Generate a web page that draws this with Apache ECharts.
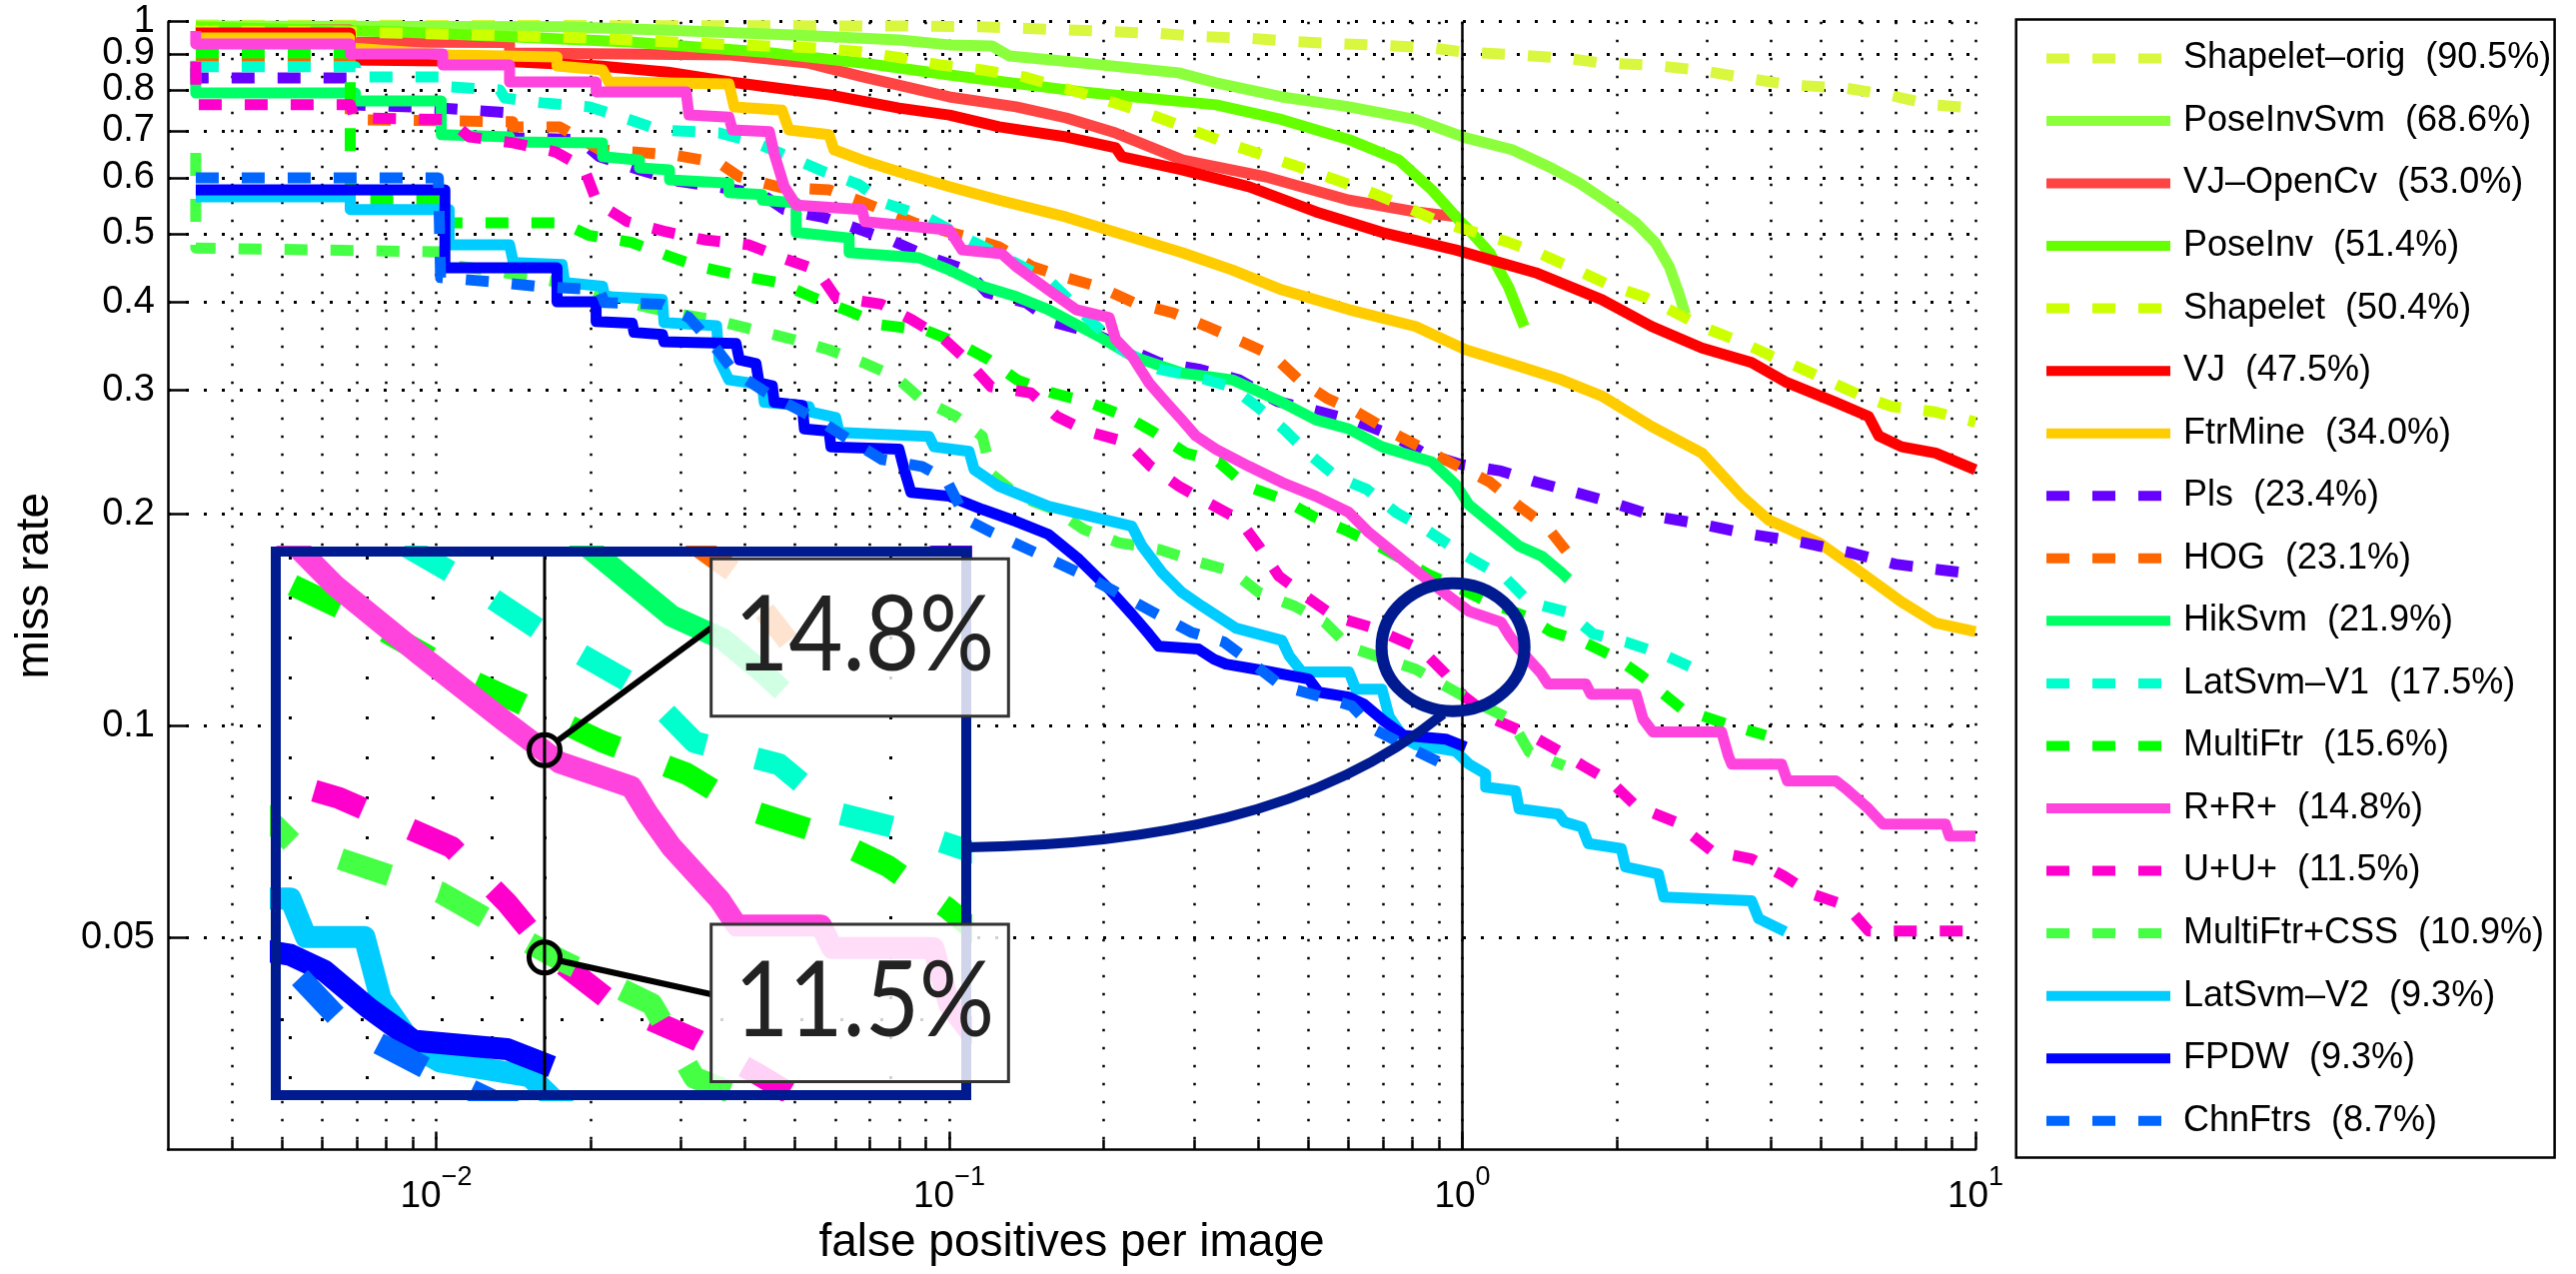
<!DOCTYPE html>
<html><head><meta charset="utf-8">
<script src="https://cdn.jsdelivr.net/npm/echarts@6.0.0/dist/echarts.min.js"></script>
<style>html,body{margin:0;padding:0;background:#fff}#c{width:2578px;height:1275px}</style>
</head><body><div id="c"></div>
<script>
// ---------- data (fppi, miss rate) ----------
const methodNames = ['Shapelet\u2013orig','PoseInvSvm','VJ\u2013OpenCv','PoseInv','Shapelet','VJ','FtrMine','Pls','HOG','HikSvm','LatSvm\u2013V1','MultiFtr','R+R+','U+U+','MultiFtr+CSS','LatSvm\u2013V2','FPDW','ChnFtrs'];
const methodScores = ['90.5%','68.6%','53.0%','51.4%','50.4%','47.5%','34.0%','23.4%','23.1%','21.9%','17.5%','15.6%','14.8%','11.5%','10.9%','9.3%','9.3%','8.7%'];

const shapeletOrig = [[0.0034,0.989],[0.08,0.986],[0.118,0.983],[0.143,0.978],[0.209,0.968],[0.258,0.962],[0.315,0.952],[0.387,0.947],[0.472,0.937],[0.58,0.930],[0.712,0.925],[0.868,0.918],[1.0,0.906],[1.28,0.897],[1.58,0.888],[1.86,0.874],[2.31,0.868],[2.89,0.854],[3.55,0.832],[4.38,0.813],[5.57,0.805],[6.77,0.787],[8.2,0.762],[10,0.754]];
const poseInvSvm = [[0.0034,0.986],[0.0176,0.984],[0.0276,0.973],[0.051,0.957],[0.08,0.942],[0.1,0.927],[0.121,0.924],[0.131,0.894],[0.182,0.874],[0.28,0.846],[0.331,0.819],[0.445,0.782],[0.601,0.757],[0.811,0.726],[1.015,0.684],[1.25,0.658],[1.49,0.620],[1.69,0.590],[1.93,0.553],[2.18,0.518],[2.38,0.485],[2.53,0.449],[2.64,0.412],[2.72,0.384]];
const vjOpenCv = [[0.0034,0.973],[0.0068,0.973],[0.0068,0.936],[0.0139,0.934],[0.0139,0.903],[0.0374,0.897],[0.0529,0.874],[0.0678,0.835],[0.1,0.782],[0.135,0.757],[0.169,0.730],[0.211,0.695],[0.285,0.636],[0.414,0.602],[0.601,0.558],[0.811,0.537],[0.984,0.528]];
const poseInv = [[0.0034,0.983],[0.0085,0.967],[0.0238,0.936],[0.0432,0.906],[0.0676,0.874],[0.1,0.840],[0.1815,0.795],[0.331,0.762],[0.445,0.726],[0.601,0.680],[0.752,0.636],[0.872,0.577],[0.984,0.523],[1.03,0.506],[1.13,0.470],[1.23,0.420],[1.32,0.369]];
const shapelet = [[0.0034,0.970],[0.00659,0.967],[0.0127,0.957],[0.0196,0.948],[0.0382,0.927],[0.055,0.918],[0.0675,0.906],[0.0807,0.888],[0.0959,0.868],[0.116,0.854],[0.14,0.835],[0.196,0.779],[0.242,0.742],[0.297,0.702],[0.346,0.673],[0.407,0.647],[0.48,0.622],[0.567,0.596],[0.657,0.574],[0.776,0.546],[0.9,0.520],[1.06,0.502],[1.22,0.487],[1.43,0.467],[1.67,0.444],[1.93,0.423],[2.27,0.406],[2.64,0.384],[2.95,0.368],[3.49,0.351],[4.0,0.335],[4.52,0.323],[5.22,0.308],[6.0,0.294],[6.87,0.284],[8.36,0.279],[10,0.270]];
const vj = [[0.0034,0.964],[0.0068,0.964],[0.0068,0.882],[0.0141,0.877],[0.0208,0.865],[0.0283,0.848],[0.0374,0.821],[0.0584,0.787],[0.0798,0.754],[0.1,0.737],[0.125,0.709],[0.169,0.686],[0.211,0.662],[0.217,0.643],[0.284,0.616],[0.384,0.583],[0.518,0.537],[0.697,0.502],[0.971,0.474],[1.39,0.440],[1.87,0.403],[2.34,0.369],[2.93,0.344],[3.66,0.328],[4.26,0.308],[5.34,0.288],[6.19,0.275],[6.48,0.258],[7.18,0.249],[8.36,0.244],[10,0.231]];
const ftrMine = [[0.0034,0.948],[0.00678,0.948],[0.00678,0.918],[0.0106,0.897],[0.0172,0.891],[0.0172,0.865],[0.0211,0.854],[0.0217,0.821],[0.0372,0.816],[0.0381,0.757],[0.0472,0.749],[0.0487,0.702],[0.0583,0.691],[0.0596,0.658],[0.0676,0.636],[0.0798,0.612],[0.1,0.583],[0.125,0.558],[0.169,0.528],[0.211,0.502],[0.284,0.470],[0.356,0.444],[0.445,0.416],[0.601,0.390],[0.811,0.369],[1.015,0.342],[1.29,0.324],[1.56,0.310],[1.87,0.294],[2.34,0.266],[2.93,0.244],[3.5,0.212],[3.95,0.196],[4.95,0.182],[5.66,0.170],[7.17,0.150],[8.36,0.140],[10,0.136]];
const pls = [[0.0034,0.860],[0.0034,0.832],[0.0068,0.832],[0.0068,0.762],[0.0101,0.754],[0.0141,0.742],[0.0141,0.684],[0.019,0.680],[0.0208,0.643],[0.0249,0.616],[0.0298,0.593],[0.0352,0.583],[0.0432,0.568],[0.0477,0.541],[0.0571,0.527],[0.0673,0.506],[0.0781,0.487],[0.0922,0.462],[0.108,0.444],[0.1185,0.412],[0.141,0.399],[0.16,0.374],[0.189,0.362],[0.256,0.328],[0.306,0.321],[0.367,0.310],[0.435,0.289],[0.53,0.279],[0.628,0.270],[0.735,0.258],[0.841,0.244],[0.993,0.235],[1.19,0.230],[1.39,0.222],[1.66,0.2145],[1.95,0.2077],[2.38,0.1983],[2.93,0.1932],[3.65,0.187],[4.58,0.1822],[5.66,0.1764],[6.98,0.1696],[10,0.1641]];
const hog = [[0.0034,0.877],[0.0068,0.877],[0.0068,0.726],[0.0141,0.721],[0.0141,0.709],[0.0174,0.709],[0.0208,0.658],[0.0289,0.647],[0.0356,0.630],[0.039,0.602],[0.0472,0.581],[0.0583,0.577],[0.0676,0.555],[0.0862,0.517],[0.108,0.495],[0.125,0.479],[0.145,0.449],[0.167,0.434],[0.196,0.420],[0.229,0.399],[0.272,0.386],[0.318,0.369],[0.372,0.351],[0.429,0.335],[0.48,0.310],[0.544,0.292],[0.623,0.279],[0.729,0.261],[0.872,0.244],[0.984,0.2335],[1.13,0.222],[1.29,0.205],[1.46,0.192],[1.63,0.1735]];
const hikSvm = [[0.0034,0.88],[0.0034,0.792],[0.00696,0.792],[0.00696,0.772],[0.01023,0.772],[0.01023,0.691],[0.0139,0.686],[0.0139,0.675],[0.0211,0.673],[0.0211,0.643],[0.0249,0.636],[0.0249,0.620],[0.0285,0.616],[0.0285,0.596],[0.0372,0.590],[0.0372,0.572],[0.0432,0.568],[0.0432,0.558],[0.0503,0.553],[0.0503,0.502],[0.0638,0.493],[0.0638,0.470],[0.0873,0.462],[0.1,0.444],[0.116,0.421],[0.135,0.407],[0.156,0.390],[0.196,0.357],[0.227,0.335],[0.284,0.317],[0.356,0.310],[0.445,0.288],[0.518,0.272],[0.601,0.264],[0.697,0.249],[0.872,0.237],[0.971,0.220],[1.03,0.206],[1.29,0.180],[1.43,0.174],[1.56,0.165],[1.61,0.1615]];
const latSvmV1 = [[0.0034,0.863],[0.00696,0.863],[0.00696,0.835],[0.0106,0.835],[0.0106,0.808],[0.0133,0.800],[0.0136,0.779],[0.0161,0.767],[0.0199,0.757],[0.0238,0.726],[0.0272,0.702],[0.0356,0.695],[0.042,0.673],[0.0487,0.643],[0.0571,0.612],[0.0667,0.587],[0.0746,0.553],[0.0901,0.528],[0.1045,0.498],[0.125,0.467],[0.156,0.430],[0.19,0.374],[0.217,0.342],[0.256,0.321],[0.303,0.313],[0.354,0.303],[0.398,0.284],[0.449,0.2636],[0.498,0.2445],[0.567,0.226],[0.651,0.2167],[0.742,0.201],[0.849,0.190],[1.006,0.175],[1.22,0.1615],[1.35,0.1498],[1.60,0.145],[1.80,0.135],[2.08,0.1315],[2.45,0.1264],[2.93,0.1192]];
const multiFtr = [[0.0034,0.903],[0.0068,0.903],[0.0068,0.558],[0.01023,0.558],[0.01023,0.518],[0.0176,0.518],[0.0199,0.497],[0.024,0.486],[0.0278,0.467],[0.0321,0.450],[0.039,0.436],[0.0466,0.426],[0.0538,0.407],[0.0632,0.389],[0.0737,0.371],[0.0905,0.364],[0.1035,0.350],[0.1196,0.331],[0.1355,0.310],[0.1586,0.297],[0.187,0.288],[0.221,0.275],[0.251,0.261],[0.289,0.244],[0.335,0.237],[0.379,0.219],[0.445,0.210],[0.514,0.198],[0.588,0.190],[0.697,0.179],[0.86,0.164],[1.0,0.156],[1.12,0.150],[1.33,0.143],[1.49,0.136],[1.72,0.1315],[1.99,0.125],[2.24,0.1176],[2.68,0.1056],[3.27,0.1006],[3.90,0.0969]];
const rrPlus = [[0.0034,0.97],[0.0034,0.930],[0.0068,0.930],[0.0068,0.900],[0.0103,0.900],[0.0103,0.868],[0.0139,0.868],[0.0139,0.821],[0.0205,0.821],[0.0205,0.795],[0.0307,0.795],[0.0311,0.737],[0.0372,0.732],[0.0378,0.702],[0.0446,0.698],[0.0456,0.649],[0.0477,0.583],[0.0503,0.549],[0.0676,0.541],[0.0685,0.520],[0.1,0.506],[0.106,0.474],[0.1267,0.468],[0.135,0.449],[0.156,0.416],[0.1766,0.390],[0.205,0.380],[0.211,0.354],[0.227,0.335],[0.245,0.307],[0.2645,0.288],[0.284,0.272],[0.3025,0.258],[0.331,0.247],[0.384,0.2335],[0.445,0.2216],[0.518,0.2118],[0.601,0.2009],[0.657,0.1882],[0.779,0.1701],[0.924,0.1543],[1.03,0.1454],[1.19,0.1403],[1.23,0.1349],[1.29,0.1285],[1.42,0.119],[1.47,0.1146],[1.74,0.1146],[1.78,0.1109],[2.18,0.1109],[2.25,0.1022],[2.35,0.098],[3.2,0.098],[3.3,0.0906],[3.35,0.0882],[4.19,0.0882],[4.3,0.0835],[5.34,0.0835],[5.6,0.0813],[6.19,0.0762],[6.6,0.0725],[8.74,0.0725],[8.9,0.0697],[10,0.0697]];
const uuPlus = [[0.0034,0.877],[0.0034,0.762],[0.0068,0.762],[0.00693,0.730],[0.0106,0.726],[0.0116,0.686],[0.0141,0.673],[0.0171,0.653],[0.0194,0.620],[0.0206,0.553],[0.0236,0.520],[0.0281,0.503],[0.0333,0.490],[0.0407,0.482],[0.0472,0.462],[0.0552,0.444],[0.0601,0.406],[0.0737,0.397],[0.0847,0.377],[0.0977,0.354],[0.108,0.331],[0.1206,0.303],[0.1443,0.297],[0.162,0.275],[0.1856,0.262],[0.222,0.2526],[0.247,0.2335],[0.280,0.219],[0.318,0.2077],[0.367,0.1964],[0.401,0.180],[0.439,0.1631],[0.495,0.1527],[0.562,0.143],[0.663,0.138],[0.830,0.1285],[0.928,0.1184],[1.006,0.1102],[1.15,0.1022],[1.36,0.0969],[1.54,0.0921],[1.72,0.0877],[1.95,0.0832],[2.18,0.0769],[2.60,0.073],[3.06,0.0664],[3.66,0.0647],[4.23,0.0612],[4.79,0.0577],[5.61,0.0555],[6.19,0.0511],[10,0.0511]];
const multiFtrCss = [[0.0034,0.651],[0.0034,0.477],[0.01023,0.471],[0.0104,0.452],[0.0126,0.444],[0.0152,0.434],[0.0174,0.426],[0.0206,0.412],[0.0243,0.397],[0.0289,0.386],[0.0348,0.377],[0.0417,0.365],[0.0494,0.354],[0.0583,0.342],[0.0679,0.328],[0.0787,0.313],[0.0881,0.291],[0.103,0.275],[0.116,0.2576],[0.121,0.2275],[0.1368,0.2118],[0.160,0.2029],[0.183,0.190],[0.214,0.182],[0.256,0.178],[0.3025,0.1712],[0.356,0.1657],[0.401,0.1547],[0.4715,0.1478],[0.539,0.1403],[0.603,0.1293],[0.811,0.1203],[0.933,0.1135],[1.03,0.1091],[1.24,0.1022],[1.35,0.0918],[1.58,0.0877]];
const latSvmV2 = [[0.0034,0.564],[0.0068,0.564],[0.0068,0.541],[0.0106,0.541],[0.0106,0.482],[0.0139,0.482],[0.01414,0.455],[0.0176,0.452],[0.0178,0.426],[0.0211,0.421],[0.0213,0.407],[0.0276,0.403],[0.0278,0.374],[0.0352,0.370],[0.0356,0.331],[0.0372,0.310],[0.0432,0.305],[0.0436,0.288],[0.0533,0.284],[0.0538,0.279],[0.0601,0.274],[0.061,0.261],[0.0913,0.2576],[0.0934,0.249],[0.1093,0.2453],[0.1118,0.2312],[0.125,0.2188],[0.156,0.205],[0.227,0.192],[0.2375,0.180],[0.26,0.165],[0.284,0.1547],[0.311,0.1478],[0.362,0.1376],[0.445,0.1322],[0.46,0.1256],[0.487,0.1192],[0.601,0.1192],[0.62,0.1127],[0.697,0.1127],[0.72,0.103],[0.77,0.096],[0.811,0.094],[0.971,0.092],[1.03,0.0882],[1.11,0.0854],[1.11,0.0818],[1.27,0.0808],[1.29,0.0762],[1.54,0.0749],[1.58,0.073],[1.71,0.0718],[1.76,0.068],[2.04,0.0669],[2.08,0.063],[2.41,0.0616],[2.47,0.0571],[3.66,0.0564],[3.78,0.0532],[4.26,0.051]];
const fpdw = [[0.0034,0.577],[0.0104,0.577],[0.0104,0.447],[0.0172,0.447],[0.0172,0.400],[0.0205,0.400],[0.0205,0.375],[0.0241,0.373],[0.0243,0.362],[0.0276,0.3595],[0.0278,0.351],[0.0384,0.349],[0.039,0.331],[0.042,0.327],[0.0426,0.307],[0.0452,0.304],[0.0456,0.288],[0.0517,0.285],[0.0522,0.264],[0.0583,0.262],[0.0588,0.249],[0.0798,0.247],[0.0817,0.2312],[0.0842,0.2145],[0.1,0.2118],[0.116,0.2029],[0.135,0.1951],[0.156,0.187],[0.179,0.1723],[0.205,0.1563],[0.227,0.144],[0.245,0.1349],[0.256,0.1297],[0.306,0.1285],[0.328,0.1243],[0.346,0.1223],[0.414,0.1196],[0.502,0.1165],[0.525,0.1116],[0.601,0.1098],[0.643,0.1073],[0.703,0.1016],[0.769,0.0969],[0.928,0.0957],[1.015,0.0933]];
const chnFtrs = [[0.0034,0.600],[0.0101,0.600],[0.0102,0.433],[0.0129,0.427],[0.0157,0.421],[0.0208,0.416],[0.0213,0.399],[0.0276,0.397],[0.0311,0.380],[0.0353,0.342],[0.0381,0.318],[0.0446,0.2955],[0.0563,0.2705],[0.0638,0.255],[0.074,0.2388],[0.0885,0.2335],[0.0986,0.2239],[0.108,0.1964],[0.121,0.1882],[0.1496,0.1752],[0.190,0.1615],[0.254,0.144],[0.296,0.1358],[0.343,0.1315],[0.392,0.1223],[0.445,0.1138],[0.525,0.1102],[0.609,0.1067],[0.672,0.0989],[0.797,0.0927],[0.962,0.0868]];

// axis ranges and ticks
const fppiRange = [0.003, 10];
const missRange = [0.025, 1];
const yTickValues = [0.05,0.1,0.2,0.3,0.4,0.5,0.6,0.7,0.8,0.9,1];
const yLabelValuesA = [0.05,0.1,0.2,0.3,0.4,0.5,0.7,0.9];
const yLabelValuesB = [0.6,0.8,1];
const xMajorTicks = [0.01,0.1,1,10];
const xMinorTicks = [0.004,0.005,0.006,0.007,0.008,0.009,0.02,0.03,0.04,0.05,0.06,0.07,0.08,0.09,0.2,0.3,0.4,0.5,0.6,0.7,0.8,0.9,2,3,4,5,6,7,8,9];
// inset (magnified view)
const insetFppiRange = [0.5894, 2.305];
const insetMissRange = [0.09015, 0.1963];
const insetXTicks = [0.6,0.7,0.8,0.9,1,2];
const insetYTicks = [0.1];
const calloutMiss = [0.148, 0.1094];
const calloutText = ['14.8%', '11.5%'];
const ellipseCenter = [0.959, 0.1293];

// ---------- styles ----------
const colors = ['#d9f73f','#8cff3c','#ff4444','#66ff00','#ccff00','#ff0000','#ffcc00','#6600ff','#ff6600','#00ff66','#00ffcc','#00ff00','#ff44dd','#ff00cc','#44ff44','#00ccff','#0000ff','#0066ff'];
const dashed = [1,0,0,0,1,0,0,1,1,0,1,1,0,1,1,0,0,1];
const FONT = "'Liberation Sans', Arial, Helvetica, sans-serif";
const NAVY = '#001a8f';

const L = Math.log10;
const toLog = arr => arr.map(p => [L(p[0]), L(p[1])]);
const allData = [shapeletOrig,poseInvSvm,vjOpenCv,poseInv,shapelet,vj,ftrMine,pls,hog,hikSvm,latSvmV1,multiFtr,rrPlus,uuPlus,multiFtrCss,latSvmV2,fpdw,chnFtrs];
const legendNames = methodNames.map((n,i) => n + '  (' + methodScores[i] + ')');

const mainSeries = allData.map((d,i) => ({
  type:'line', name: legendNames[i], xAxisIndex:0, yAxisIndex:0, data: toLog(d),
  symbol:'none', showSymbol:false, silent:true, animation:false, z:2,
  lineStyle:{color:colors[i], width:11, type: dashed[i] ? [23,23] : 'solid', cap:'butt', join:'round'},
  itemStyle:{color:colors[i]}, emphasis:{disabled:true}
}));
const insetSeries = allData.map((d,i) => ({
  type:'line', name:'inset ' + i, xAxisIndex:2, yAxisIndex:1, data: toLog(d),
  symbol:'none', showSymbol:false, silent:true, animation:false, z:7,
  lineStyle:{color:colors[i], width:22, type: dashed[i] ? [52,52] : 'solid', cap:'butt', join:'round'},
  itemStyle:{color:colors[i]}, emphasis:{disabled:true}
}));
const refMain = {type:'line', name:'ref', xAxisIndex:0, yAxisIndex:0, data:[[0,L(missRange[0])],[0,0]], symbol:'none', silent:true, animation:false, z:3, lineStyle:{color:'#000', width:2.5}};
const refInset = {type:'line', name:'refInset', xAxisIndex:2, yAxisIndex:1, data:[[0,L(insetMissRange[0])],[0,L(insetMissRange[1])]], symbol:'none', silent:true, animation:false, z:8, lineStyle:{color:'#000', width:3}};

const dotV = {color:'#000', width:2.5, type:[2.5,15.5]};
const expFmt = v => { const e = Math.round(v); return '{a|10}{b|' + (e < 0 ? '\u2212' + (-e) : String(e)) + '}'; };
const yFmt = v => String(+Math.pow(10, v).toPrecision(3));
const yLabelStyle = {show:true, margin:13, fontSize:38, lineHeight:28, fontFamily:FONT, color:'#000', showMinLabel:true, showMaxLabel:true, hideOverlap:false, formatter:yFmt};

const chart = echarts.init(document.getElementById('c'), null, {renderer:'canvas'});
chart.setOption({
  animation:false,
  backgroundColor:'#fff',
  textStyle:{fontFamily:FONT},
  grid:[
    {left:168, top:21.7, width:1809, height:1128.8, containLabel:false, outerBoundsMode:'none'},
    {left:281, top:557, width:681, height:534, containLabel:false, outerBoundsMode:'none'}
  ],
  xAxis:[
    {gridIndex:0, type:'value', position:'bottom', min:L(fppiRange[0]), max:L(fppiRange[1]),
     axisLine:{show:true, onZero:false, lineStyle:{color:'#000', width:2.5}},
     axisTick:{show:true, inside:true, length:18, customValues:xMajorTicks.map(L), lineStyle:{color:'#000', width:2.5}},
     axisLabel:{show:true, customValues:xMajorTicks.map(L), margin:15, formatter:expFmt, color:'#000',
       showMinLabel:true, showMaxLabel:true, hideOverlap:false,
       rich:{a:{fontSize:37, fontFamily:FONT, color:'#000', lineHeight:64}, b:{fontSize:27, fontFamily:FONT, color:'#000', lineHeight:27, verticalAlign:'top'}}},
     splitLine:{show:true, lineStyle:dotV},
     name:'false positives per image', nameLocation:'middle', nameGap:67,
     nameTextStyle:{fontSize:46, fontFamily:FONT, color:'#000'}},
    {gridIndex:0, type:'value', position:'bottom', min:L(fppiRange[0]), max:L(fppiRange[1]),
     axisLine:{show:false, onZero:false},
     axisTick:{show:true, inside:true, length:10, customValues:xMinorTicks.map(L), lineStyle:{color:'#000', width:2.5}},
     axisLabel:{show:false, customValues:xMinorTicks.map(L)},
     splitLine:{show:true, lineStyle:dotV}},
    {gridIndex:1, type:'value', min:L(insetFppiRange[0]), max:L(insetFppiRange[1]), z:6,
     axisLine:{show:false, onZero:false},
     axisTick:{show:false, customValues:insetXTicks.map(L)},
     axisLabel:{show:false, customValues:insetXTicks.map(L)},
     splitLine:{show:true, lineStyle:{color:'#000', width:3, type:[3,37]}}}
  ],
  yAxis:[
    {gridIndex:0, type:'value', position:'left', min:L(missRange[0]), max:L(missRange[1]),
     axisLine:{show:true, onZero:false, lineStyle:{color:'#000', width:2.5}},
     axisTick:{show:true, inside:true, length:19, customValues:yTickValues.map(L), lineStyle:{color:'#000', width:2.5}},
     axisLabel:Object.assign({customValues:yLabelValuesA.map(L)}, yLabelStyle),
     splitLine:{show:true, lineStyle:{color:'#000', width:3, type:[3,15]}},
     name:'miss rate', nameLocation:'middle', nameGap:110, nameRotate:90,
     nameTextStyle:{fontSize:46, fontFamily:FONT, color:'#000'}},
    {gridIndex:1, type:'value', min:L(insetMissRange[0]), max:L(insetMissRange[1]), z:6,
     axisLine:{show:false, onZero:false},
     axisTick:{show:false, customValues:insetYTicks.map(L)},
     axisLabel:{show:false, customValues:insetYTicks.map(L)},
     splitLine:{show:true, lineStyle:{color:'#000', width:3, type:[3,37]}}},
    {gridIndex:0, type:'value', position:'left', offset:0, min:L(missRange[0]), max:L(missRange[1]),
     axisLine:{show:false, onZero:false},
     axisTick:{show:false, customValues:yLabelValuesB.map(L)},
     axisLabel:Object.assign({customValues:yLabelValuesB.map(L)}, yLabelStyle),
     splitLine:{show:false}}
  ],
  legend:{
    orient:'vertical', left:2043, top:38.4, padding:0, itemGap:22.55,
    itemWidth:124, itemHeight:10, selectedMode:false,
    itemStyle:{opacity:0},
    lineStyle:{width:10},
    textStyle:{fontSize:36, fontFamily:FONT, color:'#000', lineHeight:40, padding:[0,0,0,8]},
    data: legendNames
  },
  series: mainSeries.concat([refMain]).concat(insetSeries).concat([refInset])
});

// ---------- annotation overlay ----------
const pxMain = (x,y) => chart.convertToPixel({xAxisIndex:0, yAxisIndex:0}, [L(x), L(y)]);
const pxInset = (x,y) => chart.convertToPixel({xAxisIndex:2, yAxisIndex:1}, [L(x), L(y)]);
const ec = pxMain(ellipseCenter[0], ellipseCenter[1]);
const er = chart.convertToPixel({xAxisIndex:0, yAxisIndex:0}, [L(ellipseCenter[0]) + 0.1393, L(ellipseCenter[1]) - 0.0908]);
const c1 = pxInset(1, calloutMiss[0]);
const c2 = pxInset(1, calloutMiss[1]);
const boxL = 711.7, boxW = 297.6, boxH = 157.4, boxT = [559.3, 925];
const cR = 15.5;
function edge(c, tx, ty){ const dx = tx - c[0], dy = ty - c[1], d = Math.hypot(dx,dy); return [c[0] + dx/d*cR, c[1] + dy/d*cR]; }
const e1 = edge(c1, boxL, 628.3), e2 = edge(c2, boxL, 995);
const elements = [
  {type:'rect', z:5, silent:true, shape:{x:276, y:552, width:691, height:544}, style:{fill:'#fff', stroke:null}},
  {type:'rect', z:9, silent:true, shape:{x:276, y:552, width:691, height:544}, style:{fill:'none', stroke:NAVY, lineWidth:10}},
  {type:'ellipse', z:9, silent:true, shape:{cx:ec[0], cy:ec[1], rx:er[0]-ec[0], ry:er[1]-ec[1]}, style:{fill:'none', stroke:NAVY, lineWidth:12}},
  {type:'bezierCurve', z:9, silent:true, shape:{x1:967, y1:848, cpx1:1150, cpy1:846, cpx2:1320, cpy2:815, x2:ec[0]-10, y2:ec[1]+(er[1]-ec[1])+3}, style:{fill:'none', stroke:NAVY, lineWidth:10}},
  {type:'circle', z:10, silent:true, shape:{cx:c1[0], cy:c1[1], r:cR}, style:{fill:'none', stroke:'#000', lineWidth:5}},
  {type:'circle', z:10, silent:true, shape:{cx:c2[0], cy:c2[1], r:cR}, style:{fill:'none', stroke:'#000', lineWidth:5}},
  {type:'line', z:10, silent:true, shape:{x1:e1[0], y1:e1[1], x2:boxL, y2:628.3}, style:{stroke:'#000', lineWidth:6}},
  {type:'line', z:10, silent:true, shape:{x1:e2[0], y1:e2[1], x2:boxL, y2:995}, style:{stroke:'#000', lineWidth:6}},
  {type:'rect', z:20, silent:true, shape:{x:2017.7, y:19.6, width:538.9, height:1138.8}, style:{fill:'none', stroke:'#000', lineWidth:2.5}}
];
boxT.forEach((t, i) => {
  elements.push({type:'rect', z:11, silent:true, shape:{x:boxL, y:t, width:boxW, height:boxH}, style:{fill:'rgba(255,255,255,0.82)', stroke:'#333', lineWidth:3}});
  elements.push({type:'text', z:12, silent:true, x:995, y:t + 78, scaleX:0.9,
    style:{text:calloutText[i], fontFamily:"Lato, 'Open Sans', sans-serif", fontSize:104, fill:'#222', align:'right', textAlign:'right', verticalAlign:'middle', textVerticalAlign:'middle'}});
});
chart.setOption({graphic:{elements}});
</script></body></html>
